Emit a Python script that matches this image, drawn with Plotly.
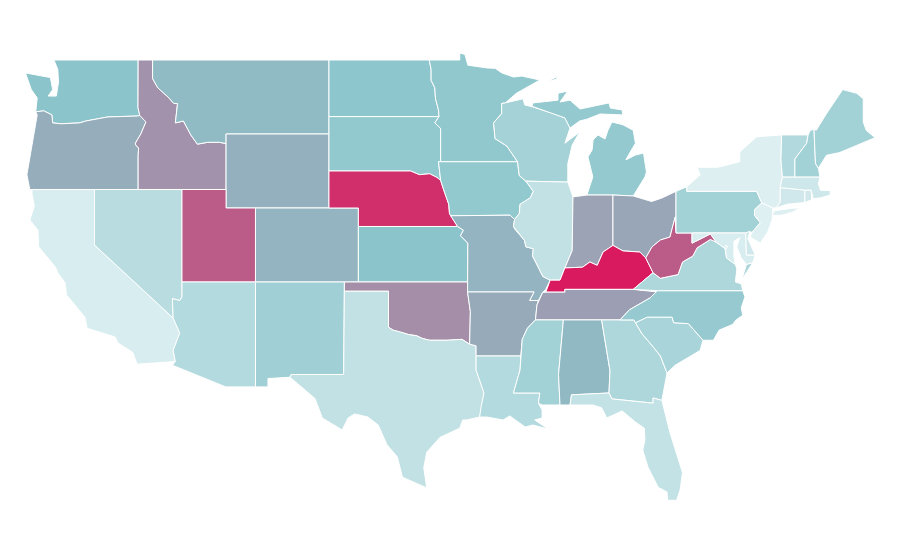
import plotly.graph_objects as go
from plotly.colors import sample_colorscale

# topojson can't be fetched offline, so the state outlines are lon/lat lists and drawn on plain axes
states = ['WA','OR','CA','NV','ID','MT','WY','UT','AZ','CO','NM','ND','SD','NE','KS','OK','TX','MN','IA','MO','AR','LA',
          'WI','IL','MI','IN','OH','KY','TN','MS','AL','GA','FL','SC','NC','VA','WV','PA','NY','MD','DC','DE','NJ','CT','RI','MA','VT','NH','ME']
values = [50,57,6,24,65,53,56,81,27,55,38,49,46,94,50,66,19,47,46,55,58,27,
          36,19,45,60,59,100,61,37,53.5,30,18,33,44,30,81,37,3,6,6,11,2,11,11,12,28,37,37]

colorscale = [[0, '#e3f2f4'], [0.5, '#8bc5cb'], [1, '#d91a5f']]
line_color = 'white'
# the page body adds 8px, so both ranges are nudged to pull the map back
lon_range = [-125.886, -64.656]
lat_range = [21.54, 51.81]

outlines = {
    'WA': [(-122.76,49),(-117.03,49),(-117.04,46.42),(-116.92,46),(-117.1,45.97),(-119.1,45.92),(-120.6,45.7),(-121,45.6),(-122.3,45.55),(-122.85,45.6),(-122.9,46.03),(-123.45,46.25),(-124,46.2),(-123.9,46.95),(-124.3,47.4),(-124.7,48.3),(-123,48.05),(-122.85,47.4),(-123.15,47.05),(-122.6,47.05),(-122.45,47.8),(-122.5,48.5)],
    'OR': [(-124,46.2),(-123.45,46.25),(-122.9,46.03),(-122.85,45.6),(-122.3,45.55),(-121,45.6),(-120.6,45.7),(-119.1,45.92),(-117.1,45.97),(-116.92,46),(-116.5,45.65),(-116.85,45),(-117.22,44.5),(-117.2,44.4),(-117,44.25),(-117.03,43.8),(-117.03,42),(-124.4,42),(-124.6,42.8),(-124.2,44.68),(-123.9,46.03)],
    'CA': [(-124.25,42),(-120,42),(-120,39),(-114.65,35.05),(-114.2,34.24),(-114.65,33.3),(-114.5,32.7),(-117.1,32.56),(-117.4,33.2),(-118.4,33.7),(-118.6,34.03),(-119.5,34.25),(-120.5,34.5),(-120.65,35.1),(-121.9,36.3),(-122,36.95),(-122.5,37.5),(-122.65,37.8),(-123.8,38.9),(-123.85,39.8),(-124.4,40.35),(-124.1,41.1),(-124.25,41.75)],
    'NV': [(-120,42),(-114.05,42),(-114.05,37),(-114.05,36.2),(-114.2,36),(-114.7,36.1),(-114.65,35.05),(-120,39)],
    'ID': [(-117.03,49),(-116.05,49),(-116.05,48),(-115.7,47.5),(-115,47),(-114.6,46.65),(-114.35,46.65),(-114.5,45.6),(-113.95,45.7),(-113.45,44.95),(-113,44.45),(-112.3,44.55),(-111.5,44.55),(-111.05,44.48),(-111.05,42),(-117.03,42),(-117.03,43.8),(-117,44.25),(-117.2,44.4),(-117.22,44.5),(-116.85,45),(-116.5,45.65),(-116.92,46),(-117.04,46.42)],
    'MT': [(-116.05,49),(-104.05,49),(-104.05,45),(-111.05,45),(-111.05,44.48),(-111.5,44.55),(-112.3,44.55),(-113,44.45),(-113.45,44.95),(-113.95,45.7),(-114.5,45.6),(-114.35,46.65),(-114.6,46.65),(-115,47),(-115.7,47.5),(-116.05,48)],
    'WY': [(-111.05,45),(-104.05,45),(-104.05,41),(-111.05,41)],
    'UT': [(-114.05,42),(-111.05,42),(-111.05,41),(-109.05,41),(-109.05,37),(-114.05,37)],
    'AZ': [(-114.05,37),(-109.05,37),(-109.05,31.33),(-111.07,31.33),(-114.7,32.5),(-114.5,32.7),(-114.65,33.3),(-114.2,34.24),(-114.65,35.05),(-114.7,36.1),(-114.2,36),(-114.05,36.2)],
    'CO': [(-109.05,41),(-102.05,41),(-102.05,37),(-109.05,37)],
    'NM': [(-109.05,37),(-103,37),(-103.05,32),(-106.62,32),(-106.7,31.85),(-108.2,31.78),(-108.2,31.33),(-109.05,31.33)],
    'ND': [(-104.05,49),(-97.23,49),(-97.1,48.5),(-97.1,47.9),(-96.85,47.5),(-96.8,46.9),(-96.6,46.3),(-96.56,45.94),(-104.05,45.94)],
    'SD': [(-104.05,45.94),(-96.56,45.94),(-96.85,45.6),(-96.45,45.3),(-96.45,43.5),(-96.6,43.5),(-96.45,42.49),(-96.7,42.65),(-97.2,42.85),(-97.9,42.8),(-98.5,43),(-104.05,43)],
    'NE': [(-104.05,43),(-98.5,43),(-97.9,42.8),(-97.2,42.85),(-96.7,42.65),(-96.45,42.49),(-96.25,42),(-96.1,41.6),(-95.9,41.2),(-95.85,40.7),(-95.3,40),(-102.05,40),(-102.05,41),(-104.05,41)],
    'KS': [(-102.05,40),(-95.3,40),(-94.9,39.8),(-95.1,39.5),(-94.6,39.1),(-94.62,37),(-102.05,37)],
    'OK': [(-103,37),(-94.62,37),(-94.62,36.46),(-94.43,35.4),(-94.48,33.64),(-95,33.9),(-96,33.85),(-96.6,33.85),(-97.2,33.85),(-97.7,33.95),(-98.1,34.1),(-98.6,34.15),(-99.2,34.3),(-99.7,34.4),(-100,34.56),(-100,36.5),(-103,36.5)],
    'TX': [(-103,36.5),(-100,36.5),(-100,34.56),(-99.7,34.4),(-99.2,34.3),(-98.6,34.15),(-98.1,34.1),(-97.7,33.95),(-97.2,33.85),(-96.6,33.85),(-96,33.85),(-95,33.9),(-94.48,33.64),(-94.04,33.55),(-94.04,32.24),(-93.5,31),(-93.7,30.25),(-93.8,29.7),(-94.7,29.54),(-94.95,29.54),(-95.15,29.1),(-96.5,28.6),(-97.4,27.8),(-97.6,26.95),(-97.4,25.87),(-99.05,26.45),(-99.4,27.55),(-100.1,28.2),(-100.7,29.27),(-101.4,29.7),(-102.3,29.87),(-102.75,29.65),(-103.15,29),(-104.5,29.65),(-105,30.7),(-106.7,31.85),(-106.62,32),(-103.05,32)],
    'MN': [(-97.23,49),(-95.15,49),(-95.15,49.38),(-94.8,49.3),(-94.6,48.72),(-93.3,48.57),(-92.75,48.55),(-92.28,48.3),(-91.5,48.08),(-90.93,48.13),(-89.7,47.92),(-91.3,47.2),(-92.05,46.68),(-92.3,46.65),(-92.3,46.1),(-92.85,45.6),(-92.75,44.75),(-91.95,44.35),(-91.22,43.5),(-96.45,43.5),(-96.45,45.3),(-96.85,45.6),(-96.56,45.94),(-96.6,46.3),(-96.8,46.9),(-96.85,47.5),(-97.1,47.9),(-97.1,48.5)],
    'IA': [(-96.45,43.5),(-91.22,43.5),(-91.1,42.75),(-90.65,42.45),(-90.15,41.9),(-90.35,41.55),(-91.05,41.2),(-91.1,40.7),(-91.42,40.38),(-91.73,40.61),(-95.77,40.58),(-95.85,40.7),(-95.9,41.2),(-96.1,41.6),(-96.25,42),(-96.45,42.49),(-96.6,43.5)],
    'MO': [(-95.77,40.58),(-91.73,40.61),(-91.42,40.38),(-91.5,40),(-91.4,39.85),(-90.75,39.25),(-90.65,38.9),(-90.15,38.8),(-90.2,38.4),(-89.9,37.95),(-89.5,37.3),(-89,37.1),(-89.3,36.6),(-89.5,36.45),(-89.8,36),(-90.4,36),(-90.1,36.46),(-94.62,36.46),(-94.62,37),(-94.6,39.1),(-95.1,39.5),(-94.9,39.8),(-95.3,40)],
    'AR': [(-94.62,36.46),(-90.1,36.46),(-90.4,36),(-89.8,36),(-89.9,35.75),(-90,34.95),(-90.55,34.5),(-90.9,33.9),(-91,33),(-94.04,33),(-94.04,33.55),(-94.48,33.64),(-94.43,35.4)],
    'LA': [(-94.04,33),(-91,33),(-91.05,32.24),(-91.5,31),(-89.7,31),(-89.8,30.45),(-89.55,30.08),(-89.55,29.65),(-90.05,29.54),(-89.15,29.05),(-90.17,29.27),(-90.7,29.16),(-91.75,29.76),(-92.2,29.54),(-93.3,29.7),(-93.8,29.7),(-93.7,30.25),(-93.5,31),(-94.04,32.24)],
    'WI': [(-92.05,46.68),(-90.85,46.9),(-90.73,46.57),(-90.17,46.46),(-88.9,46.13),(-88,45.87),(-87.65,45.32),(-88,44.5),(-87,45.1),(-87.5,44.4),(-87.8,43.4),(-87.8,42.4),(-90.65,42.45),(-91.1,42.75),(-91.22,43.5),(-91.95,44.35),(-92.75,44.75),(-92.85,45.6),(-92.3,46.1),(-92.3,46.65)],
    'IL': [(-90.65,42.45),(-87.8,42.4),(-87.45,41.6),(-87.5,38.7),(-88,37.76),(-88.33,37.1),(-89,37.1),(-89.5,37.3),(-89.9,37.95),(-90.2,38.4),(-90.15,38.8),(-90.65,38.9),(-90.75,39.25),(-91.4,39.85),(-91.5,40),(-91.42,40.38),(-91.1,40.7),(-91.05,41.2),(-90.35,41.55),(-90.15,41.9)],
    'MI': [(-86.5,41.7),(-84.73,41.7),(-83.35,41.65),(-82.55,42.68),(-82.45,42.95),(-82.65,43.97),(-83.2,43.86),(-83.85,43.6),(-83.55,44.03),(-83.2,44.5),(-83.35,45.2),(-84.05,45.5),(-84.8,45.65),(-85.07,45.2),(-85.27,44.73),(-85.75,44.95),(-86.08,44.68),(-86.15,44.13),(-86.43,43.76),(-86.1,42.68),None,
           (-90.24,46.5),(-88.9,46.13),(-88,45.87),(-87.65,45.32),(-87,45.7),(-86.5,45.8),(-85.6,46.08),(-84.05,46.03),(-84.1,46.3),(-84.9,46.4),(-85,46.68),(-86.97,46.35),(-87.65,46.83),(-88.33,46.73),(-87.8,47.32),(-88.47,47.2),(-88.47,46.83),(-90.17,46.68),None,
           (-89.2,47.85),(-88.5,48.1),(-88.6,47.95)],
    'IN': [(-87.45,41.6),(-86.5,41.7),(-84.73,41.7),(-84.73,38.98),(-85.4,38.62),(-85.8,37.9),(-86.3,38.08),(-86.8,37.8),(-88,37.76),(-87.5,38.7)],
    'OH': [(-84.73,41.7),(-83.35,41.65),(-82.1,41.35),(-81.4,41.54),(-80.44,41.9),(-80.44,40.5),(-80.5,40.5),(-80.85,39.43),(-81.5,39.27),(-82.07,38.9),(-82.5,38.3),(-82.9,38.62),(-84.05,38.68),(-84.73,38.98)],
    'KY': [(-89.3,36.45),(-89,37.1),(-88.33,37.1),(-88,37.76),(-86.8,37.8),(-86.3,38.08),(-85.8,37.9),(-85.4,38.62),(-84.73,38.98),(-84.05,38.68),(-82.9,38.62),(-82.5,38.3),(-82,37.5),(-83.35,36.6),(-88,36.6),(-88,36.45)],
    'TN': [(-90,34.95),(-84.25,34.95),(-83.6,35.5),(-82.2,36.14),(-81.7,36.46),(-83.35,36.6),(-88,36.6),(-88,36.45),(-89.5,36.45),(-89.9,35.75)],
    'MS': [(-90,34.95),(-88.1,34.95),(-88.43,32),(-88.33,30.35),(-89.55,30.35),(-89.8,30.45),(-89.7,31),(-91.5,31),(-91.05,32.24),(-91,33),(-90.9,33.9),(-90.55,34.5)],
    'AL': [(-88.1,34.95),(-85.5,34.95),(-84.93,32.2),(-85,31),(-87.55,30.9),(-87.65,30.35),(-88.33,30.35),(-88.43,32)],
    'GA': [(-85.5,34.95),(-83.3,34.95),(-83.2,34.8),(-82.75,34.2),(-82,33.5),(-81.5,33),(-81.05,32.08),(-81.3,31.16),(-81.4,30.6),(-82,30.73),(-82,30.45),(-84.8,30.68),(-85,31),(-84.93,32.2)],
    'FL': [(-87.55,30.9),(-85,31),(-84.8,30.68),(-82,30.45),(-82,30.73),(-81.4,30.6),(-80.85,28.85),(-80.4,27.75),(-80,26.7),(-80.15,25.8),(-80.4,25.2),(-81,25.2),(-81.05,25.65),(-81.65,25.9),(-82.35,27),(-82.7,27.92),(-82.55,28.46),(-82.6,29.1),(-83.2,29.43),(-84.1,30.03),(-85.15,29.65),(-85.5,30.2),(-86.1,30.35),(-86.75,30.35),(-87.65,30.35)],
    'SC': [(-83.2,34.8),(-82.4,35.1),(-80.7,35.1),(-80.6,34.8),(-79.6,34.75),(-78.6,33.85),(-78.8,33.3),(-79.7,32.9),(-80.5,32.5),(-81.05,32.08),(-81.5,33),(-82,33.5),(-82.75,34.2)],
    'NC': [(-84.25,34.95),(-83.3,34.95),(-83.2,34.8),(-82.4,35.1),(-80.7,35.1),(-80.6,34.8),(-79.6,34.75),(-78.6,33.85),(-77.9,33.85),(-77.5,34.4),(-76.6,34.7),(-76.35,34.95),(-75.9,35.2),(-76,35.6),(-75.75,36.2),(-75.9,36.53),(-81.7,36.53),(-82.2,36.14),(-83.6,35.5)],
    'VA': [(-75.9,36.53),(-76,36.9),(-76.4,37),(-76.3,37.7),(-76.4,37.95),(-77,38.3),(-77.1,38.8),(-77.7,39.15),(-78.1,39.3),(-79,38.85),(-79.3,38.4),(-80,38.08),(-80.3,37.4),(-81.5,37.2),(-82,37.5),(-83.35,36.6),(-81.7,36.53),None,
           (-75.95,37.15),(-75.65,37.95),(-75.2,38.05)],
    'WV': [(-80.5,40.5),(-80.44,39.65),(-79.35,39.65),(-79.35,39.1),(-78.1,39.6),(-77.7,39.15),(-78.1,39.3),(-79,38.85),(-79.3,38.4),(-80,38.08),(-80.3,37.4),(-81.5,37.2),(-82,37.5),(-82.5,38.3),(-82.07,38.9),(-81.5,39.27),(-80.85,39.43)],
    'PA': [(-80.44,41.9),(-79.7,42.15),(-79.7,41.9),(-74.95,41.9),(-74.6,41.27),(-75.1,40.9),(-75.1,40.6),(-74.7,40.2),(-75.25,39.7),(-75.7,39.65),(-80.44,39.65)],
    'NY': [(-79.7,42.15),(-78.8,42.8),(-79,43.2),(-77.6,43.2),(-76.1,43.5),(-76.1,44.03),(-74.95,44.85),(-73.25,44.95),(-73.3,43.6),(-73.2,42.68),(-73.35,42.1),(-73.35,41.3),(-73.65,41),(-73.85,41),(-74.6,41.27),(-74.95,41.9),(-79.7,41.9),None,
           (-73.9,40.6),(-73.75,40.85),(-72.6,40.98),(-72,41),(-72.5,40.78),(-73.3,40.6)],
    'MD': [(-79.35,39.65),(-75.7,39.65),(-75.65,38.46),(-75.05,38.46),(-75.2,38.05),(-75.65,37.95),(-76,38.3),(-76.3,38.9),(-76.1,39.4),(-76.5,39.2),(-76.5,38.4),(-76.4,37.95),(-77,38.3),(-77.1,38.8),(-77.7,39.15),(-78.1,39.6),(-79.35,39.1)],
    'DC': [(-77.12,38.93),(-77.04,39),(-76.91,38.89),(-77.04,38.79)],
    'DE': [(-75.7,39.65),(-75.4,39.75),(-75.55,39.35),(-75.05,38.46),(-75.65,38.46)],
    'NJ': [(-74.6,41.27),(-73.85,41),(-73.9,40.35),(-74.2,39.7),(-74.7,39.1),(-75.4,39.43),(-75.25,39.7),(-74.7,40.2),(-75.1,40.6),(-75.1,40.9)],
    'CT': [(-73.35,42.1),(-71.67,41.97),(-71.67,41.3),(-72.9,41.2),(-73.65,41),(-73.35,41.3)],
    'RI': [(-71.67,41.97),(-71.25,41.97),(-71.2,41.45),(-71.67,41.3)],
    'MA': [(-73.2,42.68),(-72.35,42.68),(-70.65,42.68),(-70.75,42.3),(-70.6,41.95),(-69.95,41.95),(-69.95,41.7),(-70.6,41.55),(-71.1,41.5),(-71.25,41.97),(-71.67,41.97),(-73.35,42.1)],
    'VT': [(-73.25,44.95),(-71.45,44.95),(-71.55,44.5),(-72.35,43.65),(-72.35,42.68),(-73.2,42.68),(-73.3,43.6)],
    'NH': [(-71.45,44.95),(-71.3,45.2),(-71.05,45.25),(-70.95,43.4),(-70.75,43.15),(-70.65,42.68),(-72.35,42.68),(-72.35,43.65),(-71.55,44.5)],
    'ME': [(-71.05,45.25),(-70.9,45.2),(-70.2,46.1),(-69.1,47.4),(-68.15,47.2),(-67.7,46.9),(-67.7,45.65),(-67.5,45.2),(-66.9,44.8),(-68.4,44.3),(-69.3,44),(-70.2,43.85),(-70.75,43.15),(-70.95,43.4)],
}


def close_rings(points):
    # split on None, repeat each ring's first point so the line closes
    lons, lats, ring = [], [], []
    for p in points + [None]:
        if p is None:
            ring.append(ring[0])
            lons += [q[0] for q in ring] + [None]
            lats += [q[1] for q in ring] + [None]
            ring = []
        else:
            ring.append(p)
    return lons[:-1], lats[:-1]


fig = go.Figure()

for state, value in zip(states, values):
    lons, lats = close_rings(outlines[state])
    fig.add_trace(go.Scatter(
        x=lons,
        y=lats,
        mode='lines',
        fill='toself',
        fillcolor=sample_colorscale(colorscale, value / 100)[0],
        line=dict(color=line_color, width=1),
        name=state,
        text=f'{state}: {value}',
        hoverinfo='text',
    ))

fig.update_layout(
    width=900,
    height=560,
    margin=dict(l=0, r=0, t=0, b=0),
    showlegend=False,
    paper_bgcolor='white',
    plot_bgcolor='white',
    xaxis=dict(visible=False, range=lon_range, fixedrange=True),
    yaxis=dict(visible=False, range=lat_range, fixedrange=True),
)

fig.write_html("out.html")
